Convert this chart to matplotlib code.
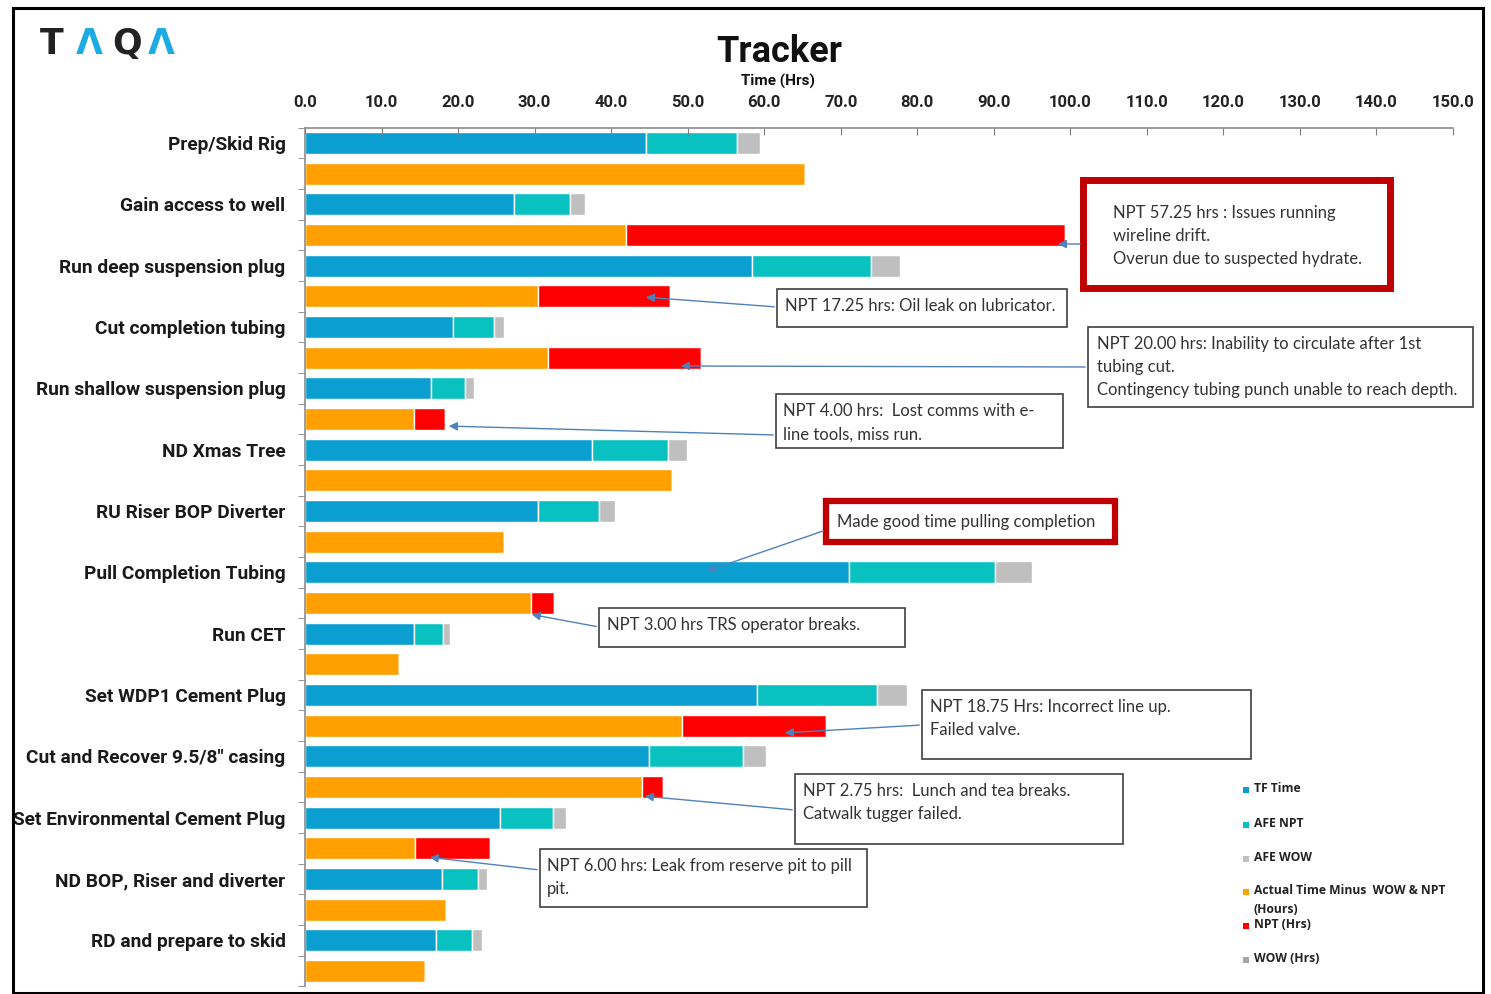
import matplotlib
matplotlib.use("Agg")
import matplotlib.pyplot as plt
from matplotlib.patches import Rectangle
import numpy as np

W, H = 1491, 994

categories = ["Prep/Skid Rig", "Gain access to well", "Run deep suspension plug",
              "Cut completion tubing", "Run shallow suspension plug", "ND Xmas Tree",
              "RU Riser BOP Diverter", "Pull Completion Tubing", "Run CET",
              "Set WDP1 Cement Plug", "Cut and Recover 9.5/8\" casing",
              "Set Environmental Cement Plug", "ND BOP, Riser and diverter",
              "RD and prepare to skid"]
tf_time = [44.5, 27.3, 58.4, 19.3, 16.4, 37.5, 30.4, 71.1, 14.2, 59.0, 45.0, 25.5, 17.9, 17.1]
afe_npt = [12.0, 7.3, 15.5, 5.4, 4.5, 9.9, 8.0, 19.1, 3.8, 15.8, 12.2, 6.9, 4.7, 4.7]
afe_wow = [3.0, 2.0, 3.9, 1.3, 1.2, 2.5, 2.1, 4.8, 0.9, 3.9, 3.0, 1.7, 1.2, 1.3]
actual_time = [65.3, 42.0, 30.4, 31.7, 14.3, 47.9, 26.0, 29.5, 12.3, 49.3, 44.0, 14.4, 18.4, 15.7]
npt_hrs = [0.0, 57.25, 17.25, 20.0, 4.0, 0.0, 0.0, 3.0, 0.0, 18.75, 2.75, 9.8, 0.0, 0.0]
wow_hrs = [0.0] * 14
x_ticks = np.arange(0, 151, 10)

legend_labels = ["TF Time", "AFE NPT", "AFE WOW",
                 "Actual Time Minus  WOW & NPT\n(Hours)", "NPT (Hrs)", "WOW (Hrs)"]
colors = ["#0A9FD0", "#09C1C0", "#BFBFBF", "#FFA000", "#FF0000", "#A5A5A5"]

fig = plt.figure(figsize=(W / 100, H / 100), dpi=100)

def fx(x):
    return x / W

def fy(y):
    return 1 - y / H

ax_left, ax_right = 305, 1453
ax_top, ax_bot = 127.7, 986.3
ax = fig.add_axes([fx(ax_left), fy(ax_bot), fx(ax_right - ax_left), (ax_bot - ax_top) / H])

n = len(categories)
plan_pos = np.arange(n) * 2
act_pos = plan_pos + 1
bh = 0.72
ekw = dict(edgecolor="white", linewidth=1.0, height=bh)

tf = np.array(tf_time); an = np.array(afe_npt); aw = np.array(afe_wow)
at = np.array(actual_time); npt = np.array(npt_hrs); ww = np.array(wow_hrs)

ax.barh(plan_pos, tf, color=colors[0], **ekw)
ax.barh(plan_pos, an, left=tf, color=colors[1], **ekw)
ax.barh(plan_pos, aw, left=tf + an, color=colors[2], **ekw)
ax.barh(act_pos, at, color=colors[3], **ekw)
ax.barh(act_pos, npt, left=at, color=colors[4], **ekw)
ax.barh(act_pos, ww, left=at + npt, color=colors[5], **ekw)

ax.set_xlim(0, 150)
ax.set_ylim(2 * n - 0.5, -0.5)
ax.xaxis.tick_top()
ax.set_xticks(x_ticks)
ax.set_xticklabels([f"{v:.1f}" for v in x_ticks], fontsize=12, fontweight="bold",
                   family="Roboto", color="#222222")
ax.tick_params(axis="x", direction="in", length=5, pad=13, color="#7f7f7f")

ax.set_yticks(np.arange(2 * n + 1) - 0.5, minor=True)
ax.set_yticks(plan_pos)
ax.set_yticklabels(categories, fontsize=13.8, fontweight="bold",
                   family="Roboto", color="#1a1a1a")
ax.tick_params(axis="y", which="major", length=0, pad=14)
ax.tick_params(axis="y", which="minor", direction="out", length=5, color="#7f7f7f")

for s in ["right", "bottom"]:
    ax.spines[s].set_visible(False)
for s in ["left", "top"]:
    ax.spines[s].set_color("#8c8c8c")
    ax.spines[s].set_linewidth(1.2)

# Title and axis label
fig.text(fx(779), fy(52), "Tracker", ha="center", va="center", fontsize=26,
         fontweight="bold", family="Roboto", color="#111111")
fig.text(fx(778), fy(81), "Time (Hrs)", ha="center", va="center", fontsize=11,
         fontweight="bold", family="Roboto", color="#111111")

# Logo
logo_letters = [("T", "#222222"), ("Λ", "#1AACE3"), ("Q", "#222222"), ("Λ", "#1AACE3")]
lx = 40
for ch, c in logo_letters:
    fig.text(fx(lx), fy(44), ch, ha="left", va="center", fontsize=25, fontweight="bold",
             family="DejaVu Sans", color=c)
    lx += 36

# Outer border
fig.patches.append(Rectangle((fx(13), fy(993)), fx(1483 - 13), (993 - 8) / H,
                             transform=fig.transFigure, fill=False,
                             edgecolor="black", linewidth=2.2))

# Annotations: (box x0, y0, x1, y1, text, edgecolor, lw, arrow start, arrow end, text pad)
notes = [
    (1083, 180, 1390, 288, "NPT 57.25 hrs : Issues running\nwireline drift.\nOverun due to suspected hydrate.",
     "#C00000", 5, (1083, 244), (1055, 244), 30),
    (777, 289, 1067, 327, "NPT 17.25 hrs: Oil leak on lubricator.", "#404040", 1.2,
     (777, 307), (643, 297), 8),
    (1088, 327, 1473, 407, "NPT 20.00 hrs: Inability to circulate after 1st\ntubing cut.\nContingency tubing punch unable to reach depth.",
     "#404040", 1.2, (1088, 367), (678, 366), 9),
    (776, 394, 1063, 448, "NPT 4.00 hrs:  Lost comms with e-\nline tools, miss run.", "#404040", 1.2,
     (776, 435), (446, 426), 7),
    (826, 501, 1115, 542, "Made good time pulling completion", "#C00000", 4.5,
     (826, 530), (704, 572), 11),
    (599, 608, 905, 647, "NPT 3.00 hrs TRS operator breaks.", "#404040", 1.2,
     (599, 627), (529, 614), 8),
    (922, 690, 1251, 759, "NPT 18.75 Hrs: Incorrect line up.\nFailed valve.", "#404040", 1.2,
     (922, 725), (782, 733), 8),
    (795, 774, 1123, 844, "NPT 2.75 hrs:  Lunch and tea breaks.\nCatwalk tugger failed.", "#404040", 1.2,
     (795, 810), (642, 796), 8),
    (540, 849, 867, 907, "NPT 6.00 hrs: Leak from reserve pit to pill\npit.", "#404040", 1.2,
     (540, 870), (427, 857), 7),
]
for x0, y0, x1, y1, txt, ec, lw, a0, a1, pad in notes:
    fig.patches.append(Rectangle((fx(x0), fy(y1)), fx(x1 - x0), (y1 - y0) / H,
                                 transform=fig.transFigure, facecolor="white",
                                 edgecolor=ec, linewidth=lw, zorder=5))
    top = y0 + (25 if y0 == 180 else (13 if lw > 3 else 9))
    fig.text(fx(x0 + pad), fy(top), txt, ha="left", va="top",
             fontsize=12, family="Lato", color="#333333", linespacing=1.55, zorder=6)
    fig.add_artist(matplotlib.patches.FancyArrowPatch(
        (fx(a0[0]), fy(a0[1])), (fx(a1[0]), fy(a1[1])), transform=fig.transFigure,
        arrowstyle="-|>,head_length=5,head_width=2.5", color="#4F81BD", lw=1.0,
        mutation_scale=1, zorder=7))

# Legend
leg_y = [790, 825, 859, 892, 926, 960]
for lab, c, y in zip(legend_labels, colors, leg_y):
    fig.patches.append(Rectangle((fx(1243), fy(y + 3)), fx(6), 6 / H,
                                 transform=fig.transFigure, facecolor=c, edgecolor="none"))
    fig.text(fx(1254), fy(y - 8), lab, ha="left", va="top", fontsize=8.7,
             fontweight="bold", family="Open Sans", color="#222222", linespacing=1.6)

fig.savefig("out.png", dpi=100)
